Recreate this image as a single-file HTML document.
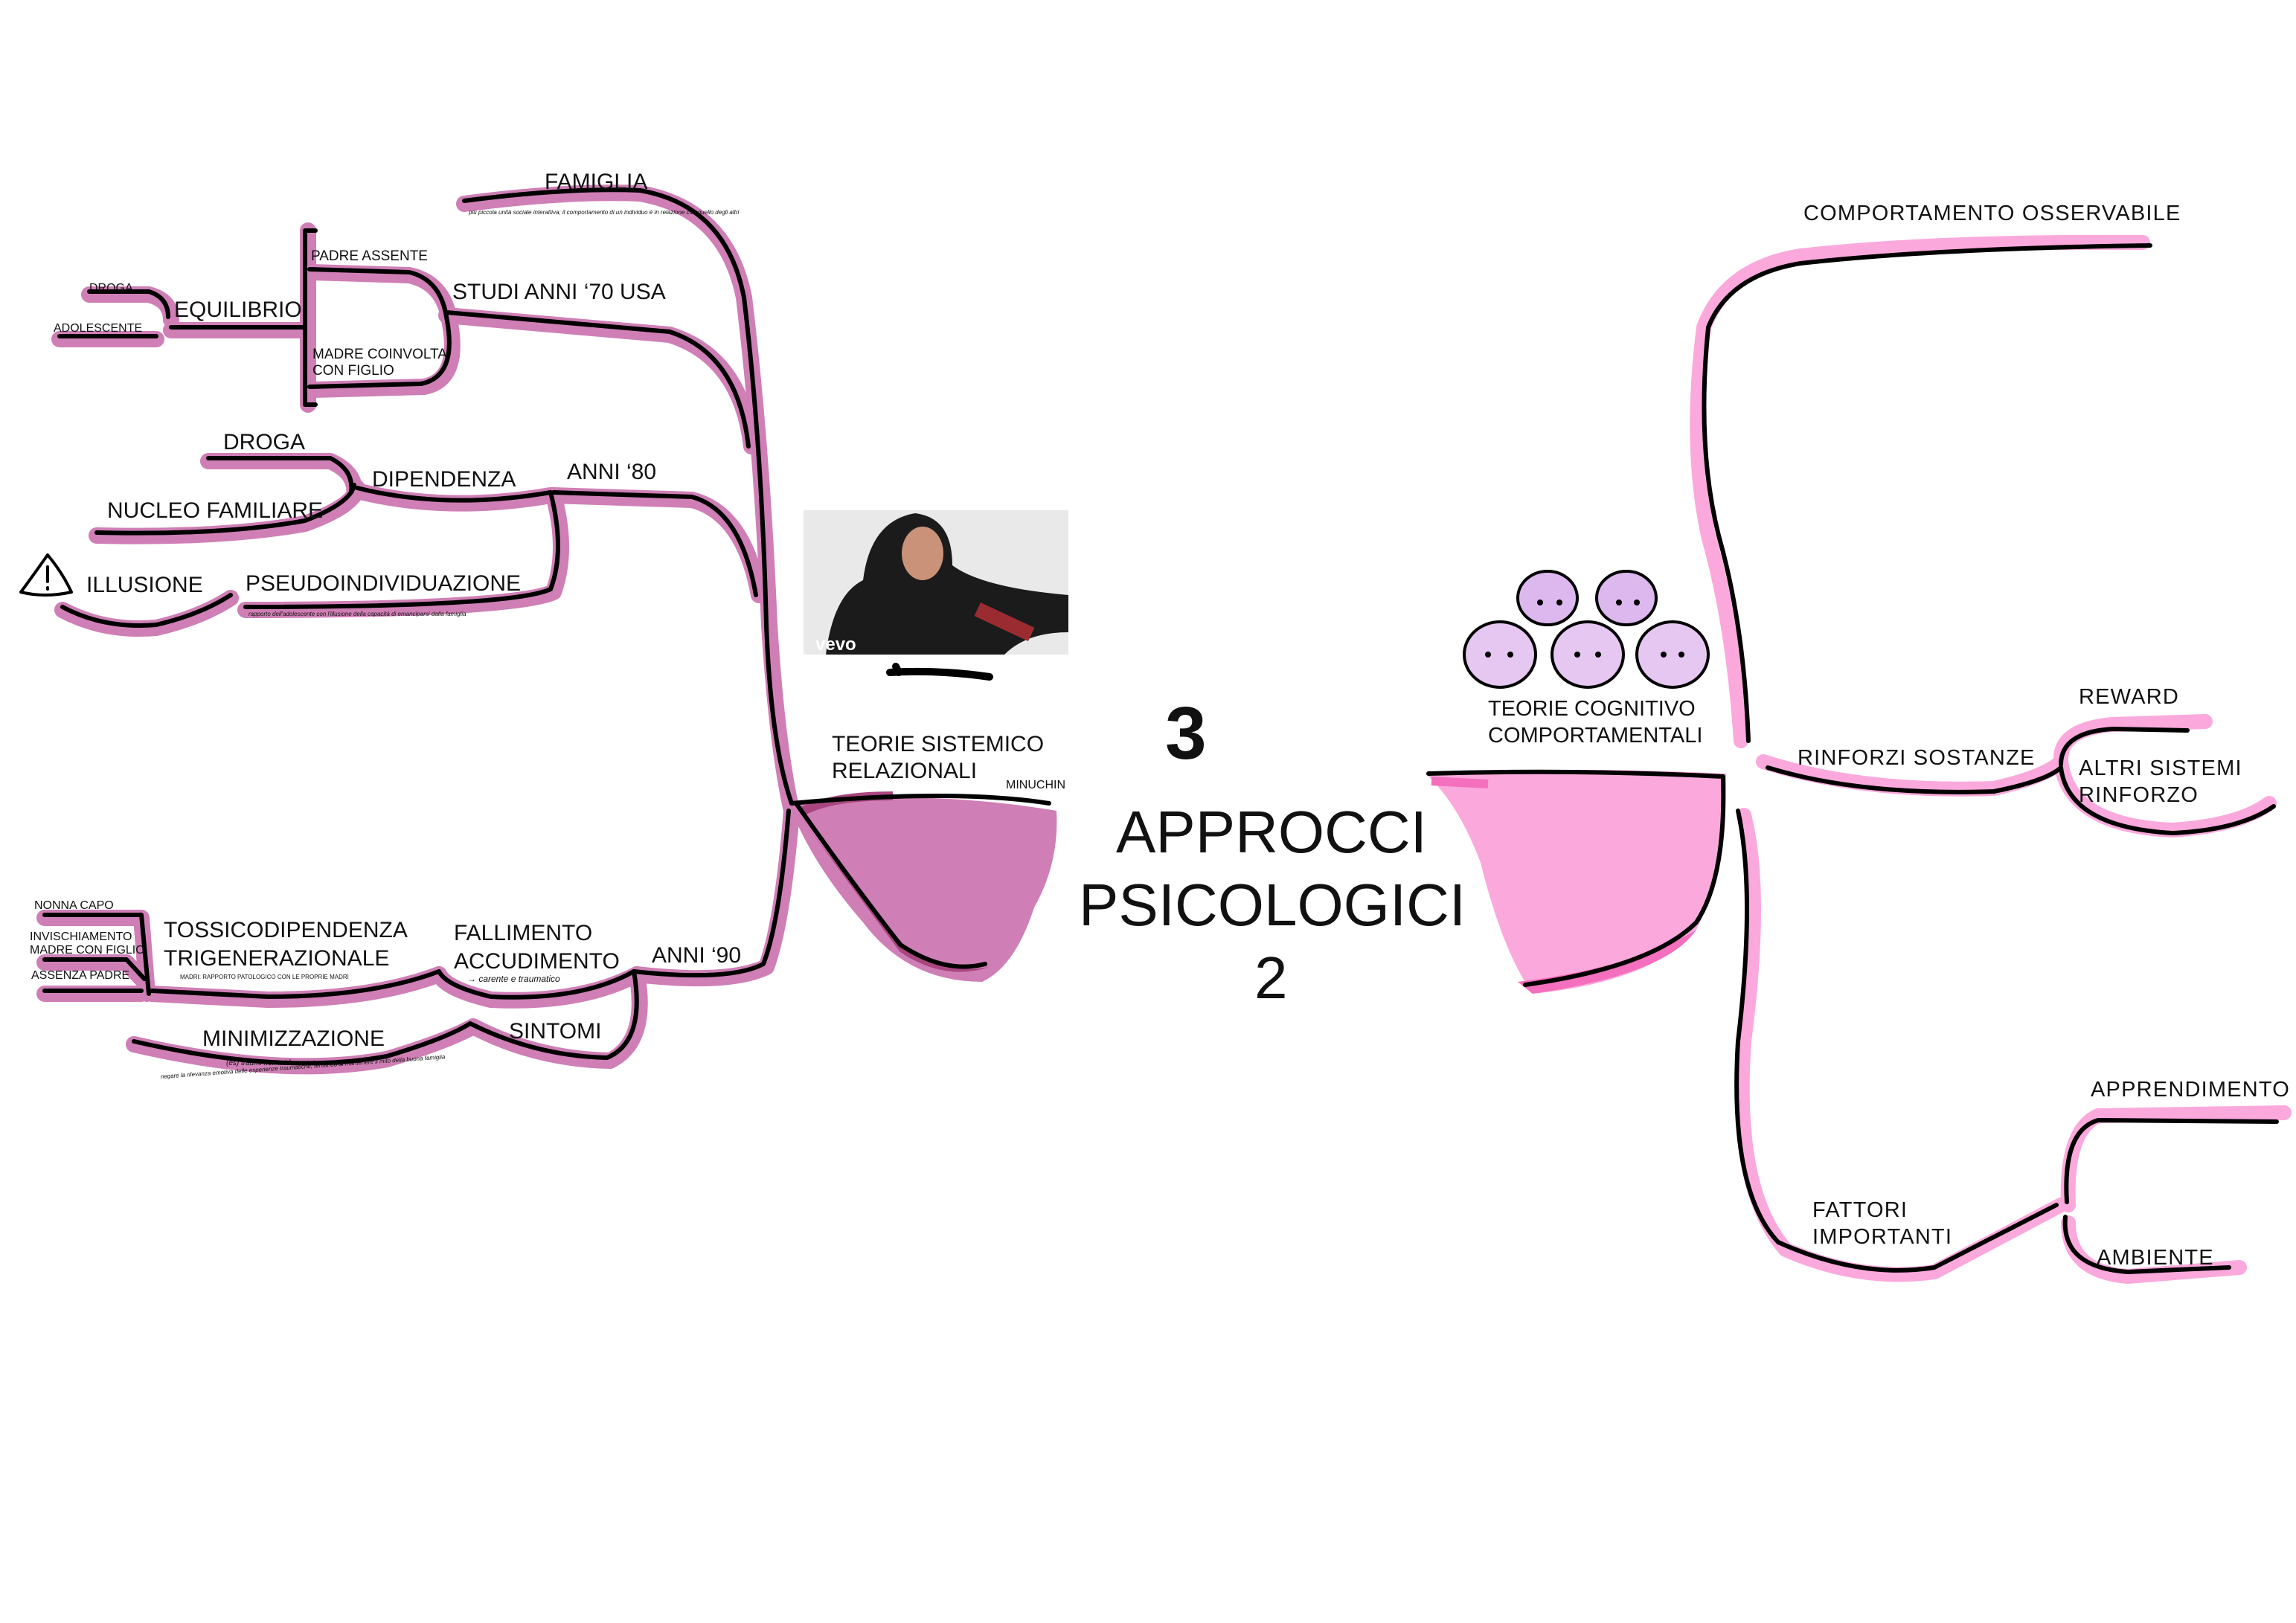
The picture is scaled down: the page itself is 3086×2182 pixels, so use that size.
<!DOCTYPE html>
<html><head><meta charset="utf-8"><style>
html,body{margin:0;padding:0;background:#fff;}
svg{display:block;}
text{font-family:"Liberation Sans",sans-serif;fill:#111;}
.r{letter-spacing:0.6px;}
</style></head><body>
<svg width="3086" height="2182" viewBox="0 0 1543 1091" xmlns="http://www.w3.org/2000/svg">
<rect width="1543" height="1091" fill="#fff"/>
<!-- LEFT pink under-strokes -->
<g fill="none" stroke="#cf7fb5" stroke-width="11" stroke-linecap="round" stroke-linejoin="round">
<path d="M312,137 Q380,128 430,130 Q488,140 500,200 Q512,300 517,420 Q522,500 532,545"/>
<path d="M300,212 L450,225 Q498,240 505,300"/>
<path d="M372,333 L465,336 Q500,345 510,400"/>
<path d="M207,155 L207,272"/>
<path d="M210,183 L275,185 Q298,190 302,215 Q310,255 285,260 L210,262"/>
<path d="M205,222 L115,222"/>
<path d="M60,198 L100,198 Q115,202 115,215"/>
<path d="M40,228 L105,228"/>
<path d="M240,330 Q300,345 370,333"/>
<path d="M140,310 L222,310 Q240,318 238,333"/>
<path d="M65,360 Q150,362 205,352 Q238,340 240,328"/>
<path d="M372,333 Q382,370 372,398 Q345,410 165,410"/>
<path d="M42,410 Q70,425 105,422 Q135,415 155,402"/>
<path d="M532,545 Q526,620 515,650 Q490,662 428,655"/>
<path d="M428,655 Q390,675 330,672 Q300,665 295,655"/>
<path d="M295,655 Q250,672 180,672 L102,668"/>
<path d="M30,617 L95,617 L99,668"/>
<path d="M30,647 L85,647 L97,660"/>
<path d="M30,668 L95,668"/>
<path d="M428,655 Q436,700 410,713 Q360,712 318,690 Q300,700 260,712 Q190,725 90,702"/>
</g>
<!-- left bowl -->
<path d="M530,540 Q620,530 710,545 Q712,580 695,610 Q682,650 660,660 Q610,660 580,620 Q545,580 530,540 Z" fill="#cf7fb5"/>
<path d="M535,545 Q575,600 605,640 Q635,660 665,650 Q640,655 612,640 Q575,600 535,545 Z" fill="#a9467f"/>
<path d="M540,545 Q560,535 600,535" stroke="#a9467f" stroke-width="6" fill="none"/>
<!-- LEFT black strokes -->
<g fill="none" stroke="#000" stroke-width="3" stroke-linecap="round" stroke-linejoin="round">
<path d="M312,135 Q380,126 430,128 Q488,138 500,200 Q512,300 515,420 Q518,500 532,540"/>
<path d="M300,210 L450,223 Q496,238 503,300"/>
<path d="M372,331 L465,334 Q498,343 508,400"/>
<path d="M212,155 L205,155 L205,272 L212,272"/>
<path d="M208,181 L275,183 Q296,188 300,213 Q308,253 283,258 L208,260"/>
<path d="M203,220 L115,220"/>
<path d="M60,196 L100,196 Q113,200 113,213"/>
<path d="M40,226 L105,226"/>
<path d="M240,328 Q300,343 370,331"/>
<path d="M140,308 L222,308 Q238,316 236,331"/>
<path d="M65,358 Q150,360 205,350 Q236,338 238,326"/>
<path d="M370,331 Q380,370 370,396 Q345,408 165,408"/>
<path d="M42,408 Q70,423 105,420 Q135,413 155,400"/>
<path d="M532,540 Q640,530 705,540"/>
<path d="M535,540 Q570,590 605,635 Q635,655 662,648"/>
<path d="M530,545 Q524,620 513,648 Q490,660 426,653"/>
<path d="M426,653 Q390,673 330,670 Q300,663 295,653"/>
<path d="M295,653 Q250,670 180,670 L102,666"/>
<path d="M30,615 L95,615 L100,668"/>
<path d="M30,645 L85,645 L97,658"/>
<path d="M30,666 L95,666"/>
<path d="M426,653 Q434,700 408,711 Q360,710 316,688 Q300,698 260,710 Q190,723 90,700"/>
<path d="M32,373 Q20,390 14,398 Q30,402 48,398 Q42,385 32,373 Z" stroke-width="2"/>
<path d="M32,381 L32,391 M32,395 L32,396" stroke-width="2"/>
<path d="M598,452 Q630,450 665,455 M602,448 L604,452" stroke-width="5"/>
</g>
<!-- photo placeholder -->
<rect x="540" y="343" width="178" height="97" fill="#e9e9e9"/>
<path d="M555,440 Q560,400 580,390 Q585,350 615,345 Q640,348 640,380 Q660,395 718,400 L718,425 Q690,425 675,440 Z" fill="#1b1b1b"/>
<ellipse cx="620" cy="372" rx="14" ry="18" fill="#c99279"/>
<rect x="655" y="413" width="40" height="10" fill="#9a2b30" transform="rotate(25 675 418)"/>
<text x="548" y="437" font-size="12" font-weight="bold" style="fill:#fff">vevo</text>
<!-- LEFT texts -->
<text x="366" y="127" font-size="15">FAMIGLIA</text>
<text x="315" y="144" font-size="4" font-style="italic">più piccola unità sociale interattiva; il comportamento di un individuo è in relazione con quello degli altri</text>
<text x="209" y="175" font-size="9.5">PADRE ASSENTE</text>
<text x="304" y="201" font-size="15">STUDI ANNI ‘70 USA</text>
<text x="60" y="196" font-size="8">DROGA</text>
<text x="117" y="213" font-size="15">EQUILIBRIO</text>
<text x="36" y="223" font-size="8">ADOLESCENTE</text>
<text x="210" y="241" font-size="9.5">MADRE COINVOLTA</text>
<text x="210" y="252" font-size="9.5">CON FIGLIO</text>
<text x="150" y="302" font-size="15">DROGA</text>
<text x="250" y="327" font-size="15">DIPENDENZA</text>
<text x="381" y="322" font-size="15">ANNI ‘80</text>
<text x="72" y="348" font-size="15">NUCLEO FAMILIARE</text>
<text x="58" y="398" font-size="15">ILLUSIONE</text>
<text x="165" y="397" font-size="15">PSEUDOINDIVIDUAZIONE</text>
<text x="167" y="414" font-size="4" font-style="italic">rapporto dell'adolescente con l'illusione della capacità di emanciparsi dalla famiglia</text>
<text x="559" y="505" font-size="15">TEORIE SISTEMICO</text>
<text x="559" y="523" font-size="15">RELAZIONALI</text>
<text x="676" y="530" font-size="8">MINUCHIN</text>
<text x="23" y="611" font-size="8">NONNA CAPO</text>
<text x="20" y="632" font-size="8">INVISCHIAMENTO</text>
<text x="20" y="641" font-size="8">MADRE CON FIGLIO</text>
<text x="21" y="658" font-size="8">ASSENZA PADRE</text>
<text x="110" y="630" font-size="15">TOSSICODIPENDENZA</text>
<text x="110" y="649" font-size="15">TRIGENERAZIONALE</text>
<text x="121" y="658" font-size="4">MADRI: RAPPORTO PATOLOGICO CON LE PROPRIE MADRI</text>
<text x="305" y="632" font-size="15">FALLIMENTO</text>
<text x="305" y="651" font-size="15">ACCUDIMENTO</text>
<text x="314" y="660" font-size="6" font-style="italic">→ carente e traumatico</text>
<text x="438" y="647" font-size="15">ANNI ‘90</text>
<text x="342" y="698" font-size="15">SINTOMI</text>
<text x="136" y="703" font-size="15">MINIMIZZAZIONE</text>
<text x="152" y="716" font-size="5" font-style="italic">(es) traumi non mi fanno stare male</text>
<text x="108" y="725" font-size="4" font-style="italic" transform="rotate(-4 108 725)">negare la rilevanza emotiva delle esperienze traumatiche, tentando di mantenere il mito della buona famiglia</text>
<!-- CENTER -->
<text x="783" y="510" font-size="50" font-weight="bold">3</text>
<text x="750" y="573" font-size="40">APPROCCI</text>
<text x="725" y="622" font-size="40">PSICOLOGICI</text>
<text x="843" y="671" font-size="40">2</text>
<!-- RIGHT bowl -->
<path d="M958,520 Q1060,515 1160,520 Q1158,590 1140,625 Q1110,660 1030,668 Q1010,640 995,580 Q980,540 958,520 Z" fill="#fba9dc"/>
<path d="M1020,660 Q1100,650 1140,625 Q1120,655 1030,668 Z" fill="#f46fbd"/>
<path d="M962,525 L1000,527" stroke="#f46fbd" stroke-width="6"/>
<!-- cognitive blobs -->
<g fill="#e6c7f2" stroke="#000" stroke-width="2">
<ellipse cx="1040" cy="402" rx="20" ry="18" fill="#dcb8ef"/>
<ellipse cx="1093" cy="402" rx="20" ry="18" fill="#dcb8ef"/>
<ellipse cx="1008" cy="440" rx="24" ry="22"/>
<ellipse cx="1067" cy="440" rx="24" ry="22"/>
<ellipse cx="1124" cy="440" rx="24" ry="22"/>
</g>
<g fill="#000">
<circle cx="1035" cy="405" r="2"/><circle cx="1048" cy="405" r="2"/>
<circle cx="1088" cy="405" r="2"/><circle cx="1100" cy="405" r="2"/>
<circle cx="1000" cy="440" r="2"/><circle cx="1015" cy="440" r="2"/>
<circle cx="1060" cy="440" r="2"/><circle cx="1074" cy="440" r="2"/>
<circle cx="1118" cy="440" r="2"/><circle cx="1130" cy="440" r="2"/>
</g>
<!-- RIGHT pink strokes -->
<g fill="none" stroke="#fba9dc" stroke-width="10" stroke-linecap="round" stroke-linejoin="round">
<path d="M1170,498 Q1165,420 1148,360 Q1135,300 1145,220 Q1160,180 1210,172 Q1300,162 1440,163"/>
<path d="M1185,512 Q1250,533 1340,530 Q1375,522 1385,512"/>
<path d="M1385,510 Q1385,490 1420,487 L1482,485"/>
<path d="M1385,512 Q1390,555 1460,558 Q1505,555 1525,540"/>
<path d="M1172,548 Q1185,600 1172,700 Q1165,800 1200,840 Q1250,862 1300,855 L1385,810"/>
<path d="M1390,810 Q1388,760 1410,750 L1535,748"/>
<path d="M1390,822 Q1390,855 1430,858 L1505,852"/>
</g>
<g fill="none" stroke="#000" stroke-width="3" stroke-linecap="round" stroke-linejoin="round">
<path d="M960,520 Q1060,517 1158,522 Q1160,590 1140,620 Q1110,650 1025,662"/>
<path d="M1175,498 Q1172,420 1155,360 Q1140,300 1148,220 Q1162,185 1210,177 Q1300,167 1445,165"/>
<path d="M1188,516 Q1250,535 1340,532 Q1375,525 1385,516"/>
<path d="M1385,514 Q1385,492 1420,490 L1470,491"/>
<path d="M1385,516 Q1390,556 1460,560 Q1505,558 1528,542"/>
<path d="M1168,545 Q1180,600 1168,700 Q1162,800 1195,835 Q1250,860 1300,852 L1382,810"/>
<path d="M1389,808 Q1386,760 1410,753 L1530,754"/>
<path d="M1388,818 Q1385,852 1430,855 L1498,852"/>
</g>
<!-- RIGHT texts -->
<text x="1000" y="481" font-size="14.5">TEORIE COGNITIVO</text>
<text x="1000" y="499" font-size="14.5">COMPORTAMENTALI</text>
<text class="r" x="1212" y="148" font-size="14.5">COMPORTAMENTO OSSERVABILE</text>
<text class="r" x="1397" y="473" font-size="14.5">REWARD</text>
<text class="r" x="1208" y="514" font-size="14.5">RINFORZI SOSTANZE</text>
<text class="r" x="1397" y="521" font-size="14.5">ALTRI SISTEMI</text>
<text class="r" x="1397" y="539" font-size="14.5">RINFORZO</text>
<text class="r" x="1405" y="737" font-size="14.5">APPRENDIMENTO</text>
<text class="r" x="1218" y="818" font-size="14.5">FATTORI</text>
<text class="r" x="1218" y="836" font-size="14.5">IMPORTANTI</text>
<text class="r" x="1409" y="850" font-size="14.5">AMBIENTE</text>
</svg>
</body></html>
